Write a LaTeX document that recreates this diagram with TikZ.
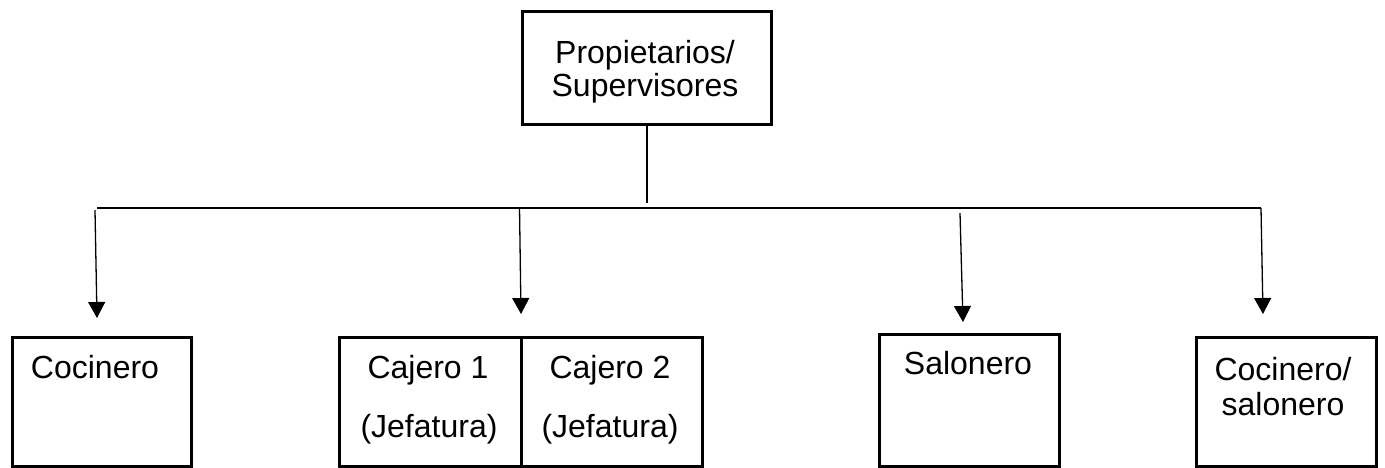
\documentclass[tikz,border=0pt]{standalone}
\usepackage{fontspec}
\setmainfont{Liberation Sans}
\usetikzlibrary{arrows.meta}
\begin{document}
\begin{tikzpicture}[x=1pt,y=-1pt,
  box/.style={draw, line width=2.6pt, inner sep=0pt, anchor=north west},
  lbl/.style={font=\fontsize{32}{34}\selectfont, inner sep=0pt, anchor=base},
  conn/.style={line width=1.3pt},
  arr/.style={conn, -{Triangle[width=17pt,length=16pt]}}]
\useasboundingbox (0,0) rectangle (1385,467);

% boxes
\node[box, minimum width=249pt, minimum height=113pt] (top) at (521,10) {};
\node[box, minimum width=179pt, minimum height=129pt] (coc) at (11,336) {};
\node[box, minimum width=182pt, minimum height=129pt] (caja) at (338,336) {};
\node[box, minimum width=181pt, minimum height=129pt] (cajb) at (520,336) {};
\node[box, minimum width=180pt, minimum height=132pt] (sal) at (878,333) {};
\node[box, minimum width=180pt, minimum height=129pt] (cs) at (1195,336) {};

% labels
\node[lbl] (tl1) at (645,63) {Propietarios/};
\node[lbl] (tl2) at (645,96) {Supervisores};
\node[lbl] (cocl) at (95,378) {Cocinero};
\node[lbl] (cal1) at (428,378) {Cajero 1};
\node[lbl] (cal2) at (429,437) {(Jefatura)};
\node[lbl] (cbl1) at (610,378) {Cajero 2};
\node[lbl] (cbl2) at (610,437) {(Jefatura)};
\node[lbl] (sall) at (968,374) {Salonero};
\node[lbl] (csl1) at (1283,380) {Cocinero/};
\node[lbl] (csl2) at (1283,415) {salonero};

% connector points
\coordinate (stem) at (647,203);
\coordinate (barL) at (97,208);
\coordinate (barR) at (1261,208);
\coordinate (a1s) at (95,210);
\coordinate (a1t) at (97,318);
\coordinate (a2s) at (519.5,207);
\coordinate (a2t) at (521,314);
\coordinate (a3s) at (960,213);
\coordinate (a3t) at (963,322);
\coordinate (a4t) at (1263,314);

% connectors
\draw[conn] (top.south -| stem) -- (stem);
\draw[conn] (barL) -- (barR);
\draw[arr] (a1s) -- (a1t);
\draw[arr] (a2s) -- (a2t);
\draw[arr] (a3s) -- (a3t);
\draw[arr] (barR) -- (a4t);
\end{tikzpicture}
\end{document}
